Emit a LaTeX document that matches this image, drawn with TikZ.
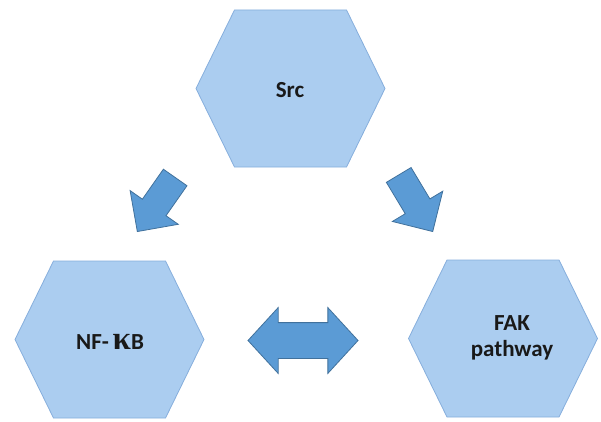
\documentclass[tikz,border=0pt]{standalone}
\usepackage{fontspec}
\setmainfont{Carlito}
\newfontfamily\kappafont{Liberation Serif}
\usetikzlibrary{shapes.arrows}
\definecolor{hexblue}{HTML}{ABCDF0}
\definecolor{hexedge}{HTML}{86AEDC}
\definecolor{arrblue}{HTML}{5B9BD5}
\definecolor{arredge}{HTML}{41719C}

\begin{document}
\begin{tikzpicture}[
  x=1pt, y=-1pt,
  hexa/.style={draw=hexedge, line width=0.8pt, fill=hexblue},
  hextext/.style={font=\fontsize{23}{26}\selectfont\bfseries, align=center, text=black!90},
  blockarrow/.style={single arrow, draw=arredge, fill=arrblue, line width=0.8pt,
                     inner xsep=0pt, inner ysep=14pt, minimum height=66pt,
                     single arrow head extend=15pt, single arrow tip angle=90},
  twoway/.style={double arrow, draw=arredge, fill=arrblue, line width=0.8pt,
                 inner xsep=0pt, inner ysep=17.5pt, minimum height=110pt,
                 double arrow head extend=15pt, double arrow tip angle=95},
]
\useasboundingbox (0,0) rectangle (601,422);

\coordinate (src) at (290.5,88.5);
\coordinate (nfkb) at (109.5,339.5);
\coordinate (fak) at (503,338.5);

% hexagons
\foreach \c in {src,nfkb,fak}
  \draw[hexa, shift={(\c)}] (-94.5,0) -- (-56,-78.5) -- (56,-78.5) -- (94.5,0)
       -- (56,78.5) -- (-56,78.5) -- cycle;

\node[hextext] (srctxt) at (290,90) {Src};
\node[hextext] (nfkbtxt) at (110,342) {NF-\,{\kappafont\fontsize{33}{33}\selectfont κ}B};
\node[hextext] (faktxt) at (512,338) {FAK\\pathway};

% arrows
\node[blockarrow, rotate=235, anchor=tip] (tonfkb) at (137,232) {};
\node[blockarrow, rotate=-59, anchor=tip] (tofak) at (433,232) {};
\node[twoway] (link) at (303,340.5) {};
\end{tikzpicture}
\end{document}
